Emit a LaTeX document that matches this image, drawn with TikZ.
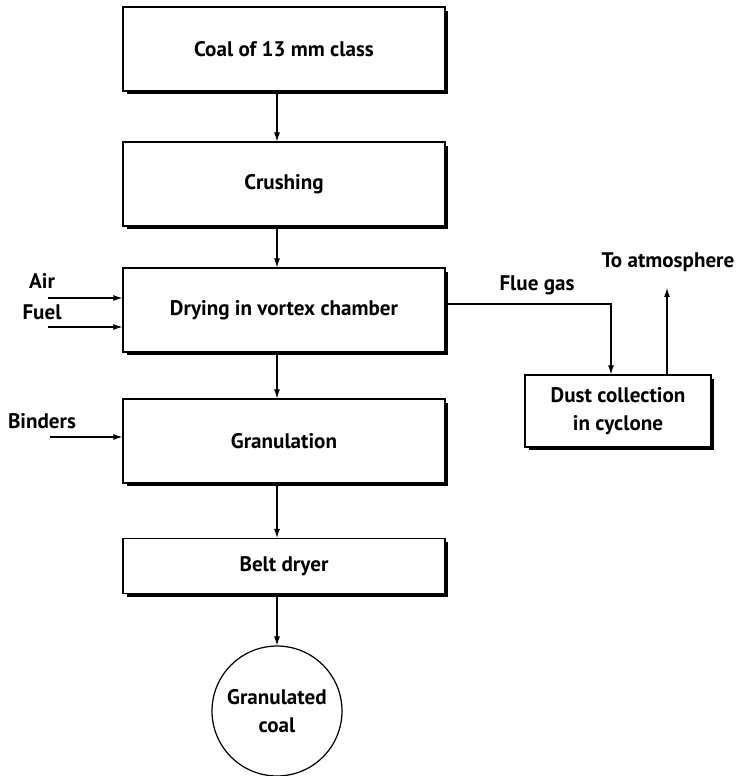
\documentclass[tikz,border=0pt]{standalone}
\usepackage{fontspec}
\setmainfont{PT Sans}
\usetikzlibrary{arrows.meta,shadows}
\begin{document}
\begin{tikzpicture}[x=0.02cm, y=-0.02cm,
		stepbox/.style={draw, line width=0.7pt, fill=white, rectangle, minimum width=6.44cm, minimum height=1.68cm, font=\fontsize{12}{14}\selectfont\bfseries, drop shadow={shadow xshift=0.7mm, shadow yshift=-0.7mm, fill=black, opacity=1}},
		flow/.style={line width=0.6pt, -{Latex[length=1.8mm, width=1.2mm]}},
		lbl/.style={font=\fontsize{12}{14}\selectfont\bfseries, inner sep=0pt}]
	\useasboundingbox (0,0) rectangle (738,776);
	\node[stepbox] at (284, 49) (coal) {Coal of 13 mm class};
	\node[stepbox] at (284, 184) (crush) {Crushing};
	\node[stepbox] at (284, 310) (dry) {Drying in vortex chamber};
	\node[stepbox] at (284, 441) (gran) {Granulation};
	\node[stepbox, minimum height=1.1cm] at (284, 566) (belt) {Belt dryer};
	\node[draw, line width=0.7pt, circle, minimum size=2.6cm, align=center, font=\fontsize{12}{16}\selectfont\bfseries] at (277, 711) (product) {Granulated\\coal};
	\node[stepbox, minimum width=3.72cm, minimum height=1.44cm, align=center, font=\fontsize{12}{16}\selectfont\bfseries] at (618, 411) (dust) {Dust collection\\in cyclone};

	\node[lbl] at (42, 281) (air) {Air};
	\node[lbl] at (42, 312) (fuel) {Fuel};
	\node[lbl] at (42, 421) (binders) {Binders};
	\node[lbl] at (537, 285) (flue) {Flue gas};
	\node[lbl] at (668, 262) (atm) {To atmosphere};
	\coordinate (air-in) at (48, 298);
	\coordinate (fuel-in) at (48, 327);
	\coordinate (binders-in) at (50, 437);
	\coordinate (flue-out) at (447, 304);
	\coordinate (atm-out) at (667, 288);

	\path
	(coal.south -| product) edge[flow] (crush.north -| product)
	(crush.south -| product) edge[flow] (dry.north -| product)
	(dry.south -| product) edge[flow] (gran.north -| product)
	(gran.south -| product) edge[flow] (belt.north -| product)
	(belt.south -| product) edge[flow] (product)
	(air-in) edge[flow] (air-in -| dry.west)
	(fuel-in) edge[flow] (fuel-in -| dry.west)
	(binders-in) edge[flow] (binders-in -| gran.west)
	(dust.north -| atm-out) edge[flow] (atm-out);
	\draw[flow] (flue-out) -| ([xshift=-4]dust.north);
\end{tikzpicture}
\end{document}
